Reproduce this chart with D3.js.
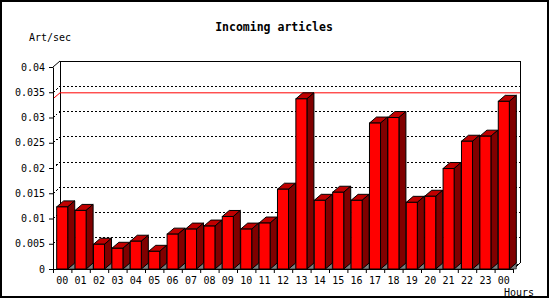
<!DOCTYPE html>
<html>
<head>
<meta charset="utf-8">
<script src="https://cdn.jsdelivr.net/npm/d3@7"></script>
<style>
body { margin: 0; background: #fff; }
text { font-family: "DejaVu Sans Mono", monospace; }
</style>
</head>
<body>
<div id="chart"></div>
<script>
// hours shown on the x axis (last one wraps to 00 again)
var hours = ["00","01","02","03","04","05","06","07","08","09","10","11",
             "12","13","14","15","16","17","18","19","20","21","22","23","00"];
// incoming articles per second, per hour
var artPerSec = [0.0123, 0.0116, 0.0049, 0.0041, 0.0055, 0.0035, 0.0069, 0.0079,
                 0.0085, 0.0104, 0.0079, 0.0091, 0.0158, 0.0337, 0.0136, 0.0152,
                 0.0136, 0.0289, 0.0300, 0.0132, 0.0144, 0.0199, 0.0253, 0.0263, 0.0332];
var yTicks = [0, 0.005, 0.01, 0.015, 0.02, 0.025, 0.03, 0.035, 0.04];
var gridTicks = [0.005, 0.01, 0.015, 0.02, 0.025, 0.03, 0.035];

(function(){
    var width = 550, height = 300;
    var plotLeft = 53, plotRight = 513, plotBottom = 269, plotTop = 67;
    var dx = 7, dy = 6;   // 3d depth offset

    var svg = d3.select("#chart").append("svg")
        .attr("width", width)
        .attr("height", height);

    svg.append("rect")
        .attr("x", 1).attr("y", 1)
        .attr("width", 547).attr("height", 296)
        .attr("fill", "#fff")
        .attr("stroke", "#000")
        .attr("stroke-width", 2);

    var y = d3.scaleLinear().domain([0, 0.04]).range([plotBottom, plotTop]);
    var x = d3.scaleBand().domain(d3.range(hours.length))
        .range([plotLeft, plotRight]).paddingInner(0.4).paddingOuter(0.2);
    var xEdge = d3.scaleLinear().domain([0, hours.length]).range([plotLeft, plotRight]);

    // back plane
    var back = svg.append("g");
    back.append("path")
        .attr("d", "M" + (plotLeft + dx) + "," + (y(0) - dy) + "V" + (y(0.04) - dy) +
            "H" + (plotRight + dx) + "V" + (y(0) - dy) + "L" + plotRight + "," + y(0))
        .attr("fill", "none").attr("stroke", "#000").attr("shape-rendering", "crispEdges");
    back.append("line")
        .attr("x1", plotLeft).attr("y1", y(0.04))
        .attr("x2", plotLeft + dx).attr("y2", y(0.04) - dy)
        .attr("stroke", "#000");

    // dotted grid on the back plane
    gridTicks.forEach(function(t){
        back.append("path")
            .attr("d", "M" + plotLeft + "," + y(t) + "L" + (plotLeft + dx) + "," + (y(t) - dy) +
                "H" + (plotRight + dx))
            .attr("fill", "none")
            .attr("stroke", "#000")
            .attr("stroke-dasharray", "2,2")
            .attr("shape-rendering", "crispEdges");
    });

    // max line
    var maxV = d3.max(artPerSec);
    back.append("path")
        .attr("d", "M" + plotLeft + "," + y(maxV) + "L" + (plotLeft + dx) + "," + (y(maxV) - dy) +
            "H" + (plotRight + dx))
        .attr("fill", "none")
        .attr("stroke", "#ff0000");

    // bars
    var bars = svg.selectAll(".bar")
        .data(artPerSec)
        .enter().append("g")
        .attr("class", "bar");

    bars.append("path")   // floor shadow
        .attr("d", function(d, i){
            var x1 = x(i) + x.bandwidth();
            return "M" + x1 + "," + y(0) + "L" + (x1 + dx) + "," + (y(0) - dy) + "V" + y(0) + "Z";
        })
        .attr("fill", "#808080").attr("stroke", "#000").attr("stroke-width", 0.6);
    bars.append("path")   // top
        .attr("d", function(d, i){
            var x0 = x(i), x1 = x0 + x.bandwidth(), yt = y(d);
            return "M" + x0 + "," + yt + "L" + (x0 + dx) + "," + (yt - dy) + "H" + (x1 + dx) +
                "L" + x1 + "," + yt + "Z";
        })
        .attr("fill", "#c00000").attr("stroke", "#000");
    bars.append("path")   // side
        .attr("d", function(d, i){
            var x1 = x(i) + x.bandwidth(), yt = y(d);
            return "M" + x1 + "," + yt + "L" + (x1 + dx) + "," + (yt - dy) + "V" + (y(0) - dy) +
                "L" + x1 + "," + y(0) + "Z";
        })
        .attr("fill", "#800000").attr("stroke", "#000");
    bars.append("rect")   // front
        .attr("x", function(d, i){ return x(i); })
        .attr("y", function(d){ return y(d); })
        .attr("width", x.bandwidth())
        .attr("height", function(d){ return y(0) - y(d); })
        .attr("fill", "#ff0000").attr("stroke", "#000");

    // y axis
    var yAxis = svg.append("g")
        .attr("transform", "translate(" + plotLeft + ",0)")
        .call(d3.axisLeft(y).tickValues(yTicks).tickSize(4).tickSizeOuter(0).tickPadding(4)
            .tickFormat(function(d){ return String(+d.toFixed(3)); }));
    yAxis.selectAll("text").attr("font-size", "10px").attr("fill", "#000")
        .style("font-family", "DejaVu Sans Mono");

    // x axis ticks at slot edges, labels at centers
    svg.append("g")
        .attr("transform", "translate(0," + plotBottom + ")")
        .call(d3.axisBottom(xEdge).tickValues(d3.range(hours.length + 1)).tickSize(4)
            .tickSizeOuter(0).tickFormat(""));
    svg.selectAll(".xlabel")
        .data(hours)
        .enter().append("text")
        .attr("class", "xlabel")
        .attr("x", function(d, i){ return x(i) + x.bandwidth() / 2; })
        .attr("y", 284)
        .attr("text-anchor", "middle")
        .attr("font-size", "10px")
        .text(function(d){ return d; });

    svg.selectAll(".domain, .tick line").attr("stroke", "#000");

    svg.append("text")
        .attr("x", 274).attr("y", 31)
        .attr("text-anchor", "middle")
        .attr("font-size", "11.5px")
        .attr("font-weight", "bold")
        .text("Incoming articles");
    svg.append("text")
        .attr("x", 29).attr("y", 41)
        .attr("font-size", "10px")
        .text("Art/sec");
    svg.append("text")
        .attr("x", 534).attr("y", 296)
        .attr("text-anchor", "end")
        .attr("font-size", "10px")
        .text("Hours");
})();
</script>
</body>
</html>
